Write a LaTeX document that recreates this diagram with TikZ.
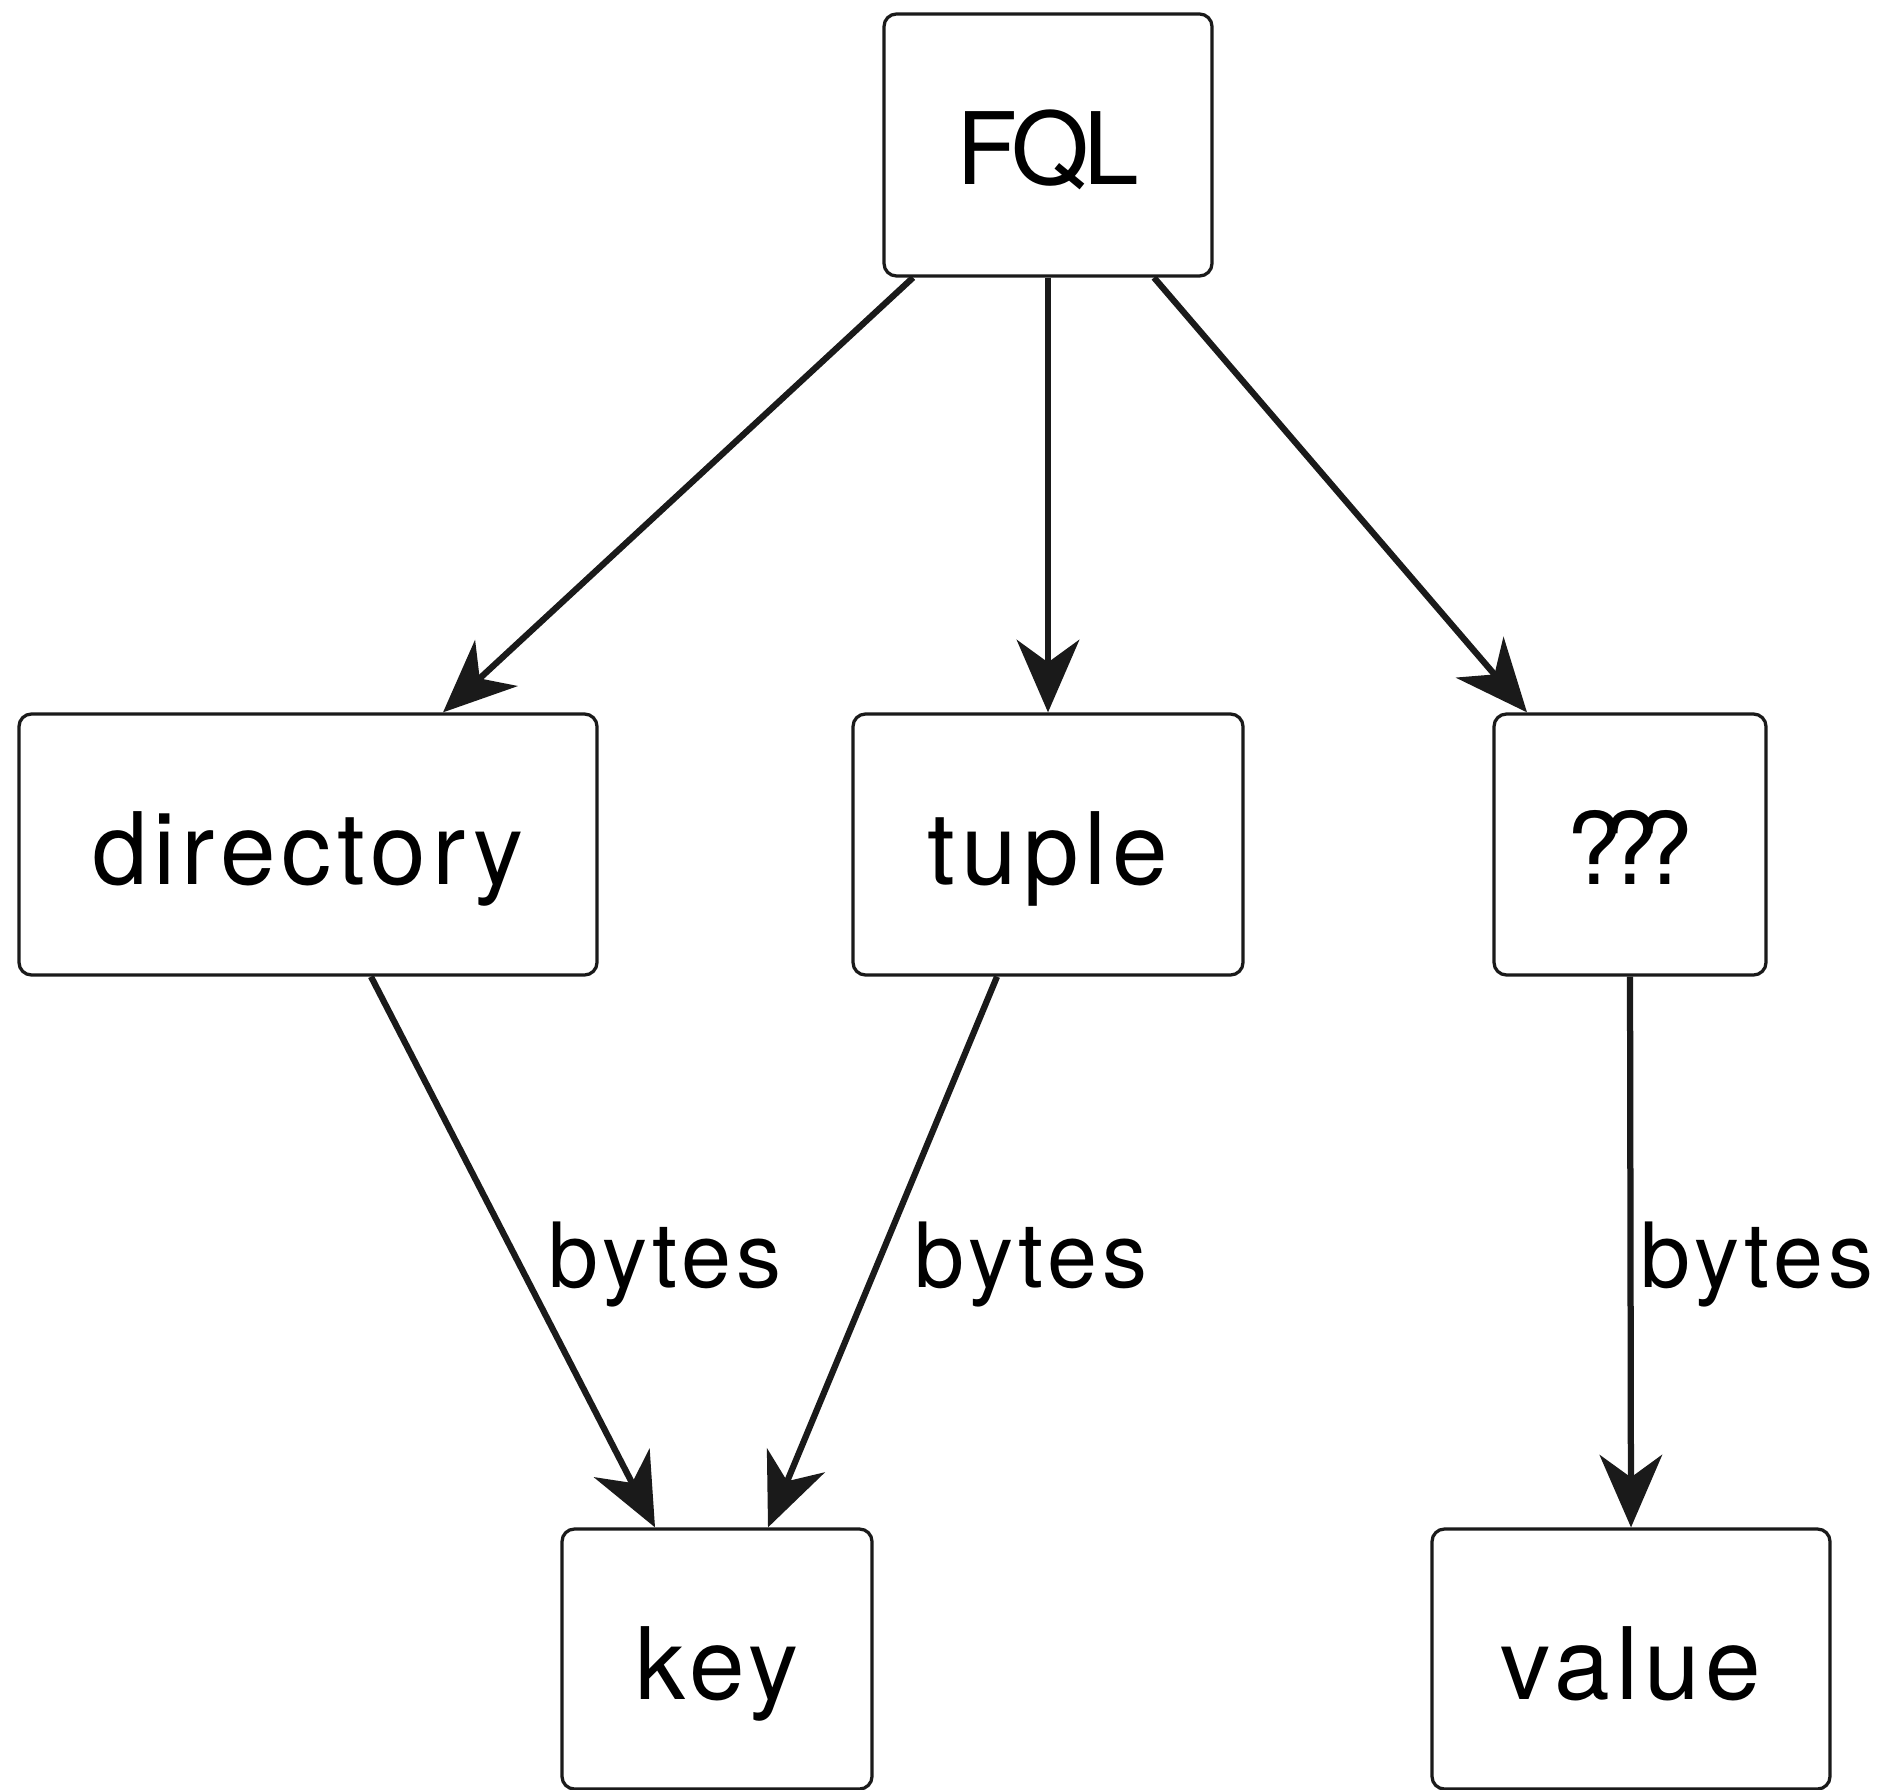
\documentclass[tikz,border=0pt]{standalone}
\usepackage{fontspec}
\setmainfont{TeX Gyre Heros}
\usetikzlibrary{arrows.meta}
\definecolor{ink}{HTML}{1A1A1A}
\tikzset{
  box/.style={draw=ink, line width=1.3pt, rounded corners=5pt, fill=white,
    inner sep=0pt, minimum height=104.4pt, text height=40pt, text depth=8pt,
    font=\fontsize{40}{48}\selectfont\addfontfeatures{LetterSpace=6}},
  conn/.style={draw=ink, line width=2.5pt,
    -{Stealth[length=29pt, width=25pt, inset=9pt]}},
  lbl/.style={font=\fontsize{36}{44}\selectfont\addfontfeatures{LetterSpace=6}, inner sep=0pt}
}
\begin{document}
\begin{tikzpicture}[x=0.4pt, y=-0.4pt]
\path[use as bounding box] (0,0) rectangle (1891,1790);
\node[box, minimum width=131.2pt, minimum height=104.8pt, font=\fontsize{40}{48}\selectfont] (fql) at (1048,145) {F\kern-0.06em Q\kern-0.06em L};
\node[box, minimum width=231.2pt] (dir) at (308,844.5) {directory};
\node[box, minimum width=156pt] (tup) at (1048,844.5) {tuple};
\node[box, minimum width=108.8pt, font=\fontsize{40}{48}\selectfont] (unk) at (1630,844.5) {?\kern-0.2em?\kern-0.2em?};
\node[box, minimum width=124pt, minimum height=104pt] (key) at (717,1659) {key};
\node[box, minimum width=159.2pt, minimum height=104pt] (val) at (1631,1659) {value};
\draw[conn] ([xshift=-54pt]fql.south) -- ([xshift=54pt]dir.north);
\draw[conn] (fql.south) -- (tup.north);
\draw[conn] ([xshift=42.4pt]fql.south) -- ([xshift=-41.2pt]unk.north);
\draw[conn] ([xshift=25.2pt]dir.south) -- ([xshift=-24.8pt]key.north);
\draw[conn] ([xshift=-20.4pt]tup.south) -- ([xshift=20.4pt]key.north);
\draw[conn] (unk.south) -- (val.north);
\node[lbl] (b1) at (665,1264) {bytes};
\node[lbl] (b2) at (1031,1264) {bytes};
\node[lbl] (b3) at (1757,1264) {bytes};
\end{tikzpicture}
\end{document}
